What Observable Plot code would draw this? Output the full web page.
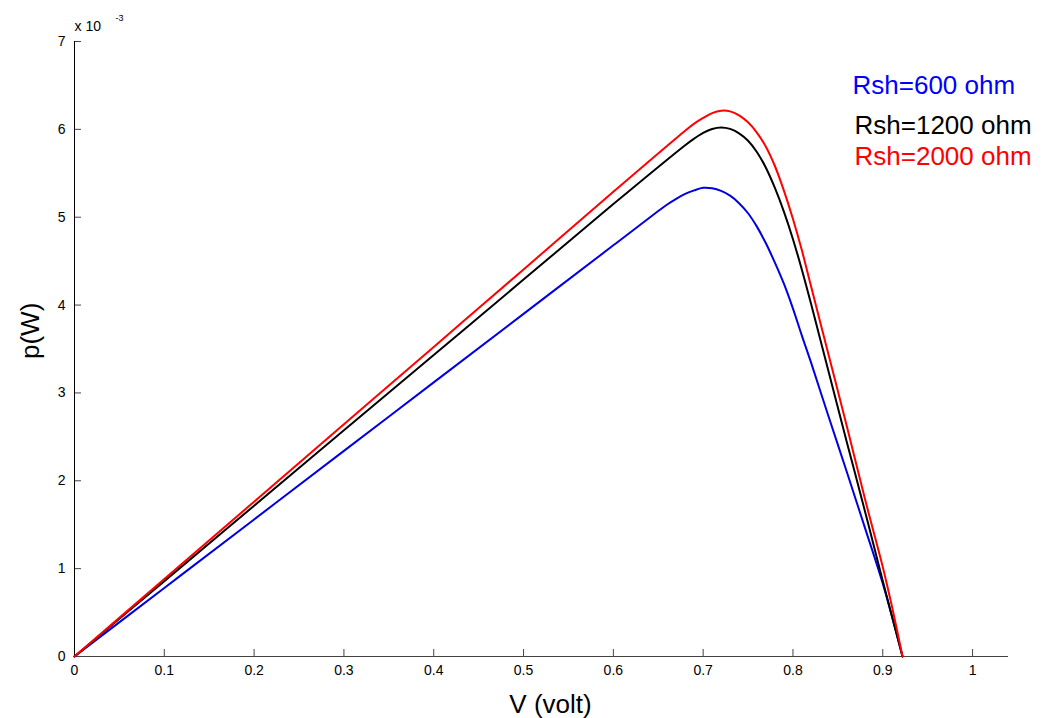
<!DOCTYPE html>
<html><head><meta charset="utf-8">
<script src="https://cdn.jsdelivr.net/npm/d3@7"></script>
<script src="https://cdn.jsdelivr.net/npm/@observablehq/plot@0.6"></script>
<style>
body{margin:0;background:#fff;font-family:"Liberation Sans",Arial,sans-serif}
#chart svg{display:block}
</style>
</head><body><div id="chart"></div>
<script>
// x ticks (volt) and y ticks (x 10^-3 W)
const xTicks = [0, 0.1, 0.2, 0.3, 0.4, 0.5, 0.6, 0.7, 0.8, 0.9, 1];
const yTicks = [0, 1, 2, 3, 4, 5, 6, 7];
const seriesNames = ["Rsh=600 ohm", "Rsh=1200 ohm", "Rsh=2000 ohm"];

// Rsh = 600 ohm
const v600 = [0, 0.1, 0.2, 0.3, 0.4, 0.5, 0.6, 0.65, 0.66, 0.67, 0.68, 0.69, 0.70, 0.71, 0.72, 0.73, 0.74, 0.75, 0.76, 0.77, 0.78, 0.79, 0.80, 0.81, 0.82, 0.84, 0.86, 0.88, 0.90, 0.922];
const p600 = [0, 0.78, 1.56, 2.34, 3.12, 3.90, 4.68, 5.07, 5.145, 5.21, 5.265, 5.305, 5.335, 5.33, 5.30, 5.245, 5.16, 5.045, 4.89, 4.70, 4.48, 4.24, 3.96, 3.65, 3.35, 2.72, 2.10, 1.47, 0.83, 0];

// Rsh = 1200 ohm
const v1200 = [0, 0.1, 0.2, 0.3, 0.4, 0.5, 0.6, 0.68, 0.69, 0.70, 0.71, 0.72, 0.73, 0.74, 0.75, 0.76, 0.77, 0.78, 0.79, 0.80, 0.81, 0.82, 0.84, 0.86, 0.88, 0.90, 0.922];
const p1200 = [0, 0.858, 1.716, 2.574, 3.432, 4.29, 5.15, 5.82, 5.895, 5.96, 6.005, 6.022, 6.005, 5.955, 5.87, 5.74, 5.56, 5.33, 5.06, 4.75, 4.40, 4.02, 3.23, 2.44, 1.66, 0.86, 0];

// Rsh = 2000 ohm
const v2000 = [0, 0.1, 0.2, 0.3, 0.4, 0.5, 0.6, 0.68, 0.69, 0.70, 0.71, 0.72, 0.73, 0.74, 0.75, 0.76, 0.77, 0.78, 0.79, 0.80, 0.81, 0.82, 0.84, 0.86, 0.88, 0.90, 0.91, 0.922];
const p2000 = [0, 0.881, 1.762, 2.643, 3.524, 4.405, 5.29, 5.985, 6.065, 6.13, 6.185, 6.212, 6.205, 6.16, 6.08, 5.96, 5.80, 5.58, 5.30, 4.98, 4.62, 4.22, 3.42, 2.62, 1.80, 1.02, 0.58, 0];

const series = [
  {name: seriesNames[0], v: v600, p: p600},
  {name: seriesNames[1], v: v1200, p: p1200},
  {name: seriesNames[2], v: v2000, p: p2000}
];
const lineColors = {"Rsh=600 ohm": "#0000e0", "Rsh=1200 ohm": "#000000", "Rsh=2000 ohm": "#ff0000"};
const textColors = {"Rsh=600 ohm": "#0000ff", "Rsh=1200 ohm": "#000000", "Rsh=2000 ohm": "#ff0000"};
const rows = series.flatMap(s => s.v.map((v, i) => ({series: s.name, v, p: s.p[i]})));

const font = '"Liberation Sans", Arial, sans-serif';

const chart = Plot.plot({
  width: 1043,
  height: 718,
  marginLeft: 74,
  marginRight: 35,
  marginTop: 41,
  marginBottom: 62,
  style: {fontFamily: font, background: "#fff", color: "#000"},
  x: {domain: [0, 1.04]},
  y: {domain: [0, 7]},
  marks: [
    Plot.axisX(xTicks, {tickSize: -7, tickPadding: 16, fontSize: 14, label: null, tickFormat: d => String(d), stroke: "#444", color: "#000"}),
    Plot.axisY(yTicks, {tickSize: -7, tickPadding: 16, fontSize: 14, label: null, tickFormat: d => String(d), stroke: "#444"}),
    Plot.ruleY([0], {stroke: "#444", strokeWidth: 1}),
    Plot.ruleX([0], {stroke: "#000", strokeWidth: 1}),
    ...seriesNames.map(n =>
      Plot.line(rows.filter(d => d.series === n), {x: "v", y: "p", stroke: lineColors[n], strokeWidth: 2, curve: "catmull-rom"})
    ),
    Plot.text([seriesNames[0]], {frameAnchor: "top-left", dx: 778, dy: 52, text: d => d, fill: textColors[seriesNames[0]], fontSize: 26, textAnchor: "start", lineAnchor: "bottom"}),
    Plot.text([seriesNames[1]], {frameAnchor: "top-left", dx: 780, dy: 92, text: d => d, fill: textColors[seriesNames[1]], fontSize: 26, textAnchor: "start", lineAnchor: "bottom"}),
    Plot.text([seriesNames[2]], {frameAnchor: "top-left", dx: 780, dy: 123, text: d => d, fill: textColors[seriesNames[2]], fontSize: 26, textAnchor: "start", lineAnchor: "bottom"}),
    Plot.text(["x 10"], {frameAnchor: "top-left", dx: 0, dy: -11, text: d => d, fontSize: 14, textAnchor: "start", lineAnchor: "bottom"}),
    Plot.text(["-3"], {frameAnchor: "top-left", dx: 41, dy: -21, text: d => d, fontSize: 9, textAnchor: "start", lineAnchor: "bottom"}),
    Plot.text(["V (volt)"], {frameAnchor: "bottom", dx: 9, dy: 56, text: d => d, fontSize: 26, lineAnchor: "bottom"}),
    Plot.text(["p(W)"], {frameAnchor: "left", dx: -44, dy: 10, text: d => d, fontSize: 26, rotate: -90, lineAnchor: "middle"})
  ]
});
document.getElementById("chart").appendChild(chart);
</script>
</body></html>
